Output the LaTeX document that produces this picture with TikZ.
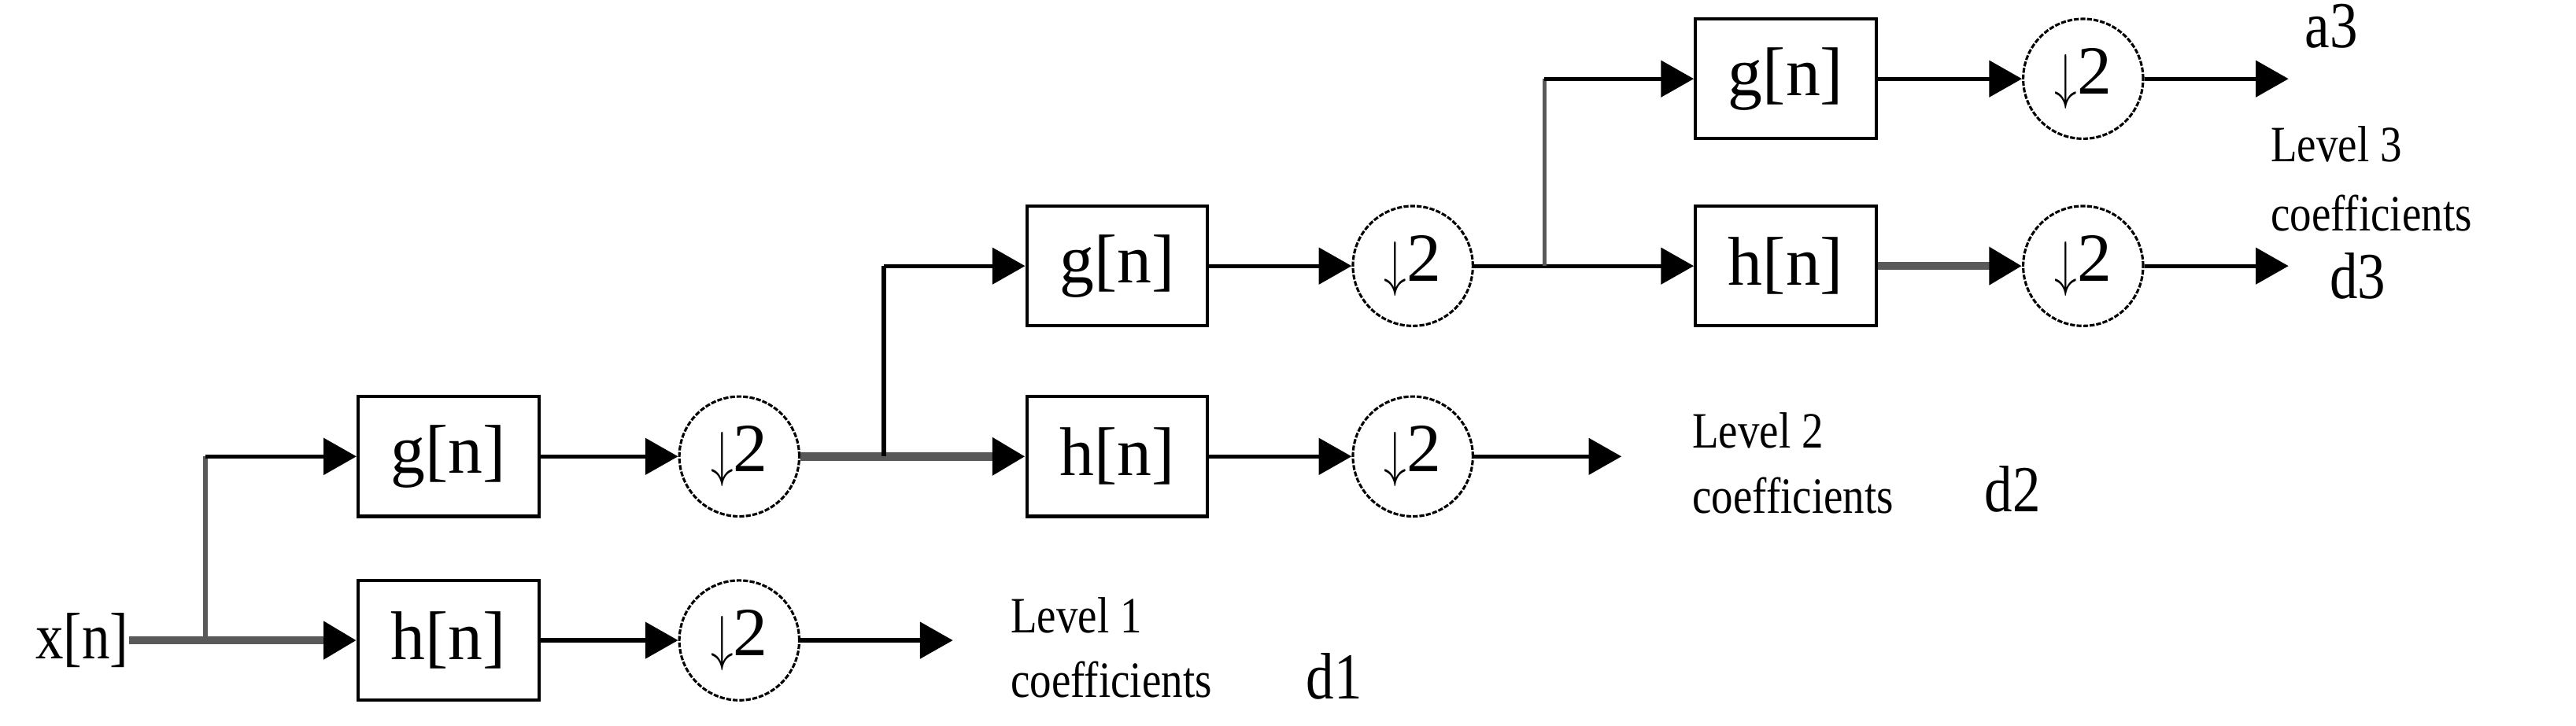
\documentclass[tikz,border=0pt]{standalone}
\usepackage{fontspec}
\setmainfont{Liberation Serif}
\usetikzlibrary{arrows.meta}
\newcommand{\dtwo}{\raisebox{-2pt}{\scalebox{1.1}[1.5]{$\downarrow$}}2}
\begin{document}
\begin{tikzpicture}[x=1pt,y=-1pt,
 box/.style={draw,line width=2pt,minimum width=110pt,minimum height=73pt,inner sep=0pt,font=\fontsize{42}{44}\selectfont},
 dn/.style={draw,circle,line width=1.5pt,dash pattern=on 3pt off 1pt,minimum size=73pt,inner sep=0pt,font=\fontsize{42}{44}\selectfont},
 lab/.style={font=\fontsize{31}{33}\selectfont,inner sep=0pt,anchor=west,xscale=0.85},
 big/.style={font=\fontsize{40}{42}\selectfont,inner sep=0pt,xscale=0.85},
 ar/.style={-{Triangle[length=20pt,width=22pt,color=black]},line width=2.5pt},
 gar/.style={ar,draw=gray!70!black,line width=5pt},
 ln/.style={line width=2.5pt},
 gln/.style={line width=2.5pt,draw=gray!70!black}]
\useasboundingbox (0,0) rectangle (1568,442);
\node[big] (x) at (50,390) {x[n]};
\coordinate (b1) at (125,390);
\coordinate (b1t) at (125,278);
\node[box] (g1) at (273,278) {g[n]};
\node[box] (h1) at (273,390) {h[n]};
\node[dn] (c1) at (450,278) {\dtwo};
\node[dn] (c2) at (450,390) {\dtwo};
\coordinate (o1) at (580,390);
\draw[gar] (x.east) -- (h1.west);
\draw[gln] (b1) -- (b1t);
\draw[ar] (b1t) -- (g1.west);
\draw[ar] (g1) -- (c1);
\draw[ar] (h1) -- (c2);
\draw[ar] (c2) -- (o1);
\node[lab] (l1) at (615,375) {Level 1};
\node[lab] (l1b) at (615,414) {coefficients};
\node[big,anchor=west] (d1) at (795,412) {d1};
% level 2
\coordinate (b2) at (538,278);
\coordinate (b2t) at (538,162);
\node[box] (g2) at (680,162) {g[n]};
\node[box] (h2) at (680,278) {h[n]};
\node[dn] (c3) at (860,162) {\dtwo};
\node[dn] (c4) at (860,278) {\dtwo};
\coordinate (o2) at (987,278);
\draw[gar] (c1) -- (h2.west);
\draw[ln] (b2) -- (b2t);
\draw[ar] (b2t) -- (g2.west);
\draw[ar] (g2) -- (c3);
\draw[ar] (h2) -- (c4);
\draw[ar] (c4) -- (o2);
\node[lab] (l2) at (1030,262) {Level 2};
\node[lab] (l2b) at (1030,302) {coefficients};
\node[big,anchor=west] (d2) at (1208,298) {d2};
% level 3
\coordinate (b3) at (940,162);
\coordinate (b3t) at (940,48);
\node[box] (g3) at (1087,48) {g[n]};
\node[box] (h3) at (1087,162) {h[n]};
\node[dn] (c5) at (1268,48) {\dtwo};
\node[dn] (c6) at (1268,162) {\dtwo};
\coordinate (o5) at (1393,48);
\coordinate (o6) at (1393,162);
\draw[ar] (c3.east) -- (h3.west);
\draw[gln] (b3) -- (b3t);
\draw[ar] (b3t) -- (g3.west);
\draw[ar] (g3) -- (c5);
\draw[gar] (h3) -- (c6);
\draw[ar] (c5) -- (o5);
\draw[ar] (c6) -- (o6);
\node[big,anchor=west] (a3) at (1403,16) {a3};
\node[lab] (l3) at (1382,88) {Level 3};
\node[lab] (l3b) at (1382,130) {coefficients};
\node[big,anchor=west] (d3) at (1418,168) {d3};
\end{tikzpicture}
\end{document}
